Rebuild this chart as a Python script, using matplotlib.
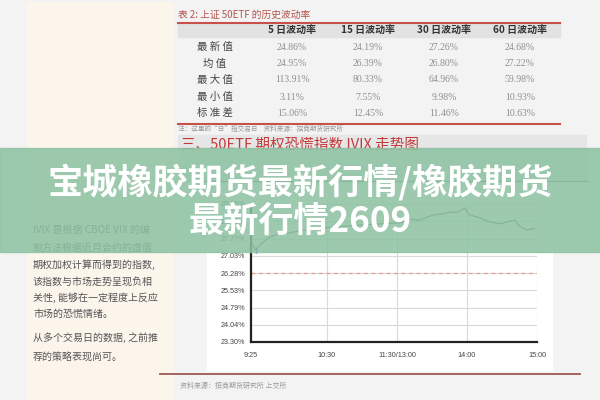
import matplotlib
matplotlib.use("Agg")
import matplotlib.pyplot as plt
from matplotlib.patches import Rectangle

plt.rcParams['font.family'] = ['Noto Sans CJK SC', 'DejaVu Sans']

# table data
col_names = ["5 日波动率", "15 日波动率", "30 日波动率", "60 日波动率"]
row_names = ["最新值", "均值", "最大值", "最小值", "标准差"]
vol_5d = ["24.86%", "24.95%", "113.91%", "3.11%", "15.06%"]
vol_15d = ["24.19%", "26.39%", "80.33%", "7.55%", "12.45%"]
vol_30d = ["27.26%", "26.80%", "64.96%", "9.98%", "11.46%"]
vol_60d = ["24.68%", "27.22%", "59.98%", "10.93%", "10.63%"]

# IVIX intraday (minutes since 9:25, lunch break collapsed)
ivix_minutes = [0, 4, 8, 15, 21, 30, 41, 55, 67, 80, 93, 110, 127, 136, 144,
                151, 157, 166, 172, 177, 183, 187, 196, 205, 213, 217, 226,
                230, 236, 243]
ivix_values = [27.62, 27.27, 27.50, 27.80, 27.92, 27.98, 28.10, 28.18, 28.25,
               28.30, 28.35, 28.40, 28.44, 28.61, 28.55, 28.70, 28.79, 28.85,
               28.92, 28.90, 29.09, 28.80, 28.66, 28.48, 28.40, 28.45, 28.57,
               28.30, 28.14, 28.20]
ivix_ref = 26.28
y_ticks = [23.30, 24.04, 24.79, 25.53, 26.28, 27.03, 27.77, 28.52, 29.26]
x_ticks = [0, 65, 125, 185, 245]
x_labels = ["9:25", "10:30", "11:30/13:00", "14:00", "15:00"]

left_text = ["IVIX 是根据 CBOE VIX 的编", "制方法根据近月合约的虚值",
             "期权加权计算而得到的指数,", "该指数与市场走势呈现负相",
             "关性, 能够在一定程度上反应", "市场的恐慌情绪。",
             "从多个交易日的数据, 之前推", "荐的策略表现尚可。"]
left_text_y = [230, 248, 265, 282, 298, 314, 338, 357]

fig = plt.figure(figsize=(6, 4), dpi=100)
fig.patch.set_facecolor('#f3f3f3')

# page background in pixel coordinates
bg = fig.add_axes([0, 0, 1, 1], zorder=0)
bg.set_xlim(0, 600)
bg.set_ylim(400, 0)
bg.axis('off')

bg.add_patch(Rectangle((27, 2), 145, 400, color='#fcf5ec'))
for s, y in zip(left_text, left_text_y):
    bg.text(33, y, s, fontsize=7.2, color='#555555', va='center')

# table
bg.text(178, 15, "表 2: 上证 50ETF 的历史波动率", fontsize=7, color='#b5534b',
        va='center')
bg.add_patch(Rectangle((178, 23), 382, 14, color='#e2e2e2'))
bg.plot([178, 560], [23, 23], color='#c8504a', lw=1.5)
bg.plot([178, 560], [124, 124], color='#c8504a', lw=1.5)
col_x = [292, 368, 444, 520]
row_y = [47, 64, 80, 97, 113]
for cx, name in zip(col_x, col_names):
    bg.text(cx, 30, name, fontsize=7.2, fontweight='bold', color='#333333',
            ha='center', va='center')
for ry, name in zip(row_y, row_names):
    bg.text(215, ry, " ".join(name), fontsize=7.5, color='#444444',
            ha='center', va='center')
for cx, col in zip(col_x, [vol_5d, vol_15d, vol_30d, vol_60d]):
    for ry, v in zip(row_y, col):
        bg.text(cx, ry, v, fontsize=7, color='#8f8f8f', ha='center',
                va='center', family=['Liberation Serif', 'DejaVu Serif'])
bg.text(178, 128.5, "注：这里的“日”指交易日    资料来源：招商期货研究所",
        fontsize=4.8, color='#9a9a9a', va='center')

# section header
bg.add_patch(Rectangle((178, 135), 408, 46, color='#e6e6e6'))
bg.plot([200, 588], [181, 181], color='#777777', lw=0.8)
bg.text(181, 145, "三、50ETF 期权恐慌指数 IVIX 走势图", fontsize=10.5,
        color='#c23a3a', va='center')

# chart box and source line
bg.add_patch(Rectangle((207, 185), 345, 185, color='white'))
bg.plot([160, 580], [374, 374], color='#9c5a55', lw=1.3)
bg.text(180, 386, "资料来源：招商期货研究所 上交所", fontsize=5,
        color='#9a9a9a', va='center')

# IVIX chart
ax = fig.add_axes([251 / 600, 58 / 400, 286 / 600, 138 / 400], zorder=1)
ax.set_facecolor('white')
ax.plot(ivix_minutes, ivix_values, color='#555555', lw=0.8)
ax.plot(ivix_minutes[1], ivix_values[1], marker='|', color='#4040d0', ms=4)
ax.axhline(ivix_ref, color='#e89a88', lw=0.9, ls=(0, (3, 3)))
ax.set_xlim(0, 245)
ax.set_ylim(y_ticks[0], y_ticks[-1])
ax.set_yticks(y_ticks)
ax.set_yticklabels(["%.2f%%" % v for v in y_ticks])
ax.set_xticks(x_ticks)
ax.set_xticklabels(x_labels)
ax.grid(True, color='#d9d9d9', lw=0.8)
for side in ['top', 'right']:
    ax.spines[side].set_visible(False)
for side in ['left', 'bottom']:
    ax.spines[side].set_linewidth(1.6)
    ax.spines[side].set_color('#222222')
ax.tick_params(length=0, pad=4, labelsize=5.2, labelcolor='#444444')
ax.tick_params(axis='x', pad=7)
for lab in ax.get_xticklabels() + ax.get_yticklabels():
    lab.set_family(['Liberation Sans Narrow', 'Liberation Sans', 'DejaVu Sans'])

# green banner on top
top = fig.add_axes([0, 0, 1, 1], zorder=10)
top.set_xlim(0, 600)
top.set_ylim(400, 0)
top.axis('off')
top.patch.set_alpha(0)
top.add_patch(Rectangle((0, 148), 600, 104, color='#8dc2a2', alpha=0.86))
top.text(300, 182, "宝城橡胶期货最新行情/橡胶期货", fontsize=25.3,
         fontweight='bold', color='white', ha='center', va='center')
top.text(300, 221, "最新行情2609", fontsize=25.3, fontweight='bold',
         color='white', ha='center', va='center')

fig.savefig("out.png", dpi=100, facecolor=fig.get_facecolor())
